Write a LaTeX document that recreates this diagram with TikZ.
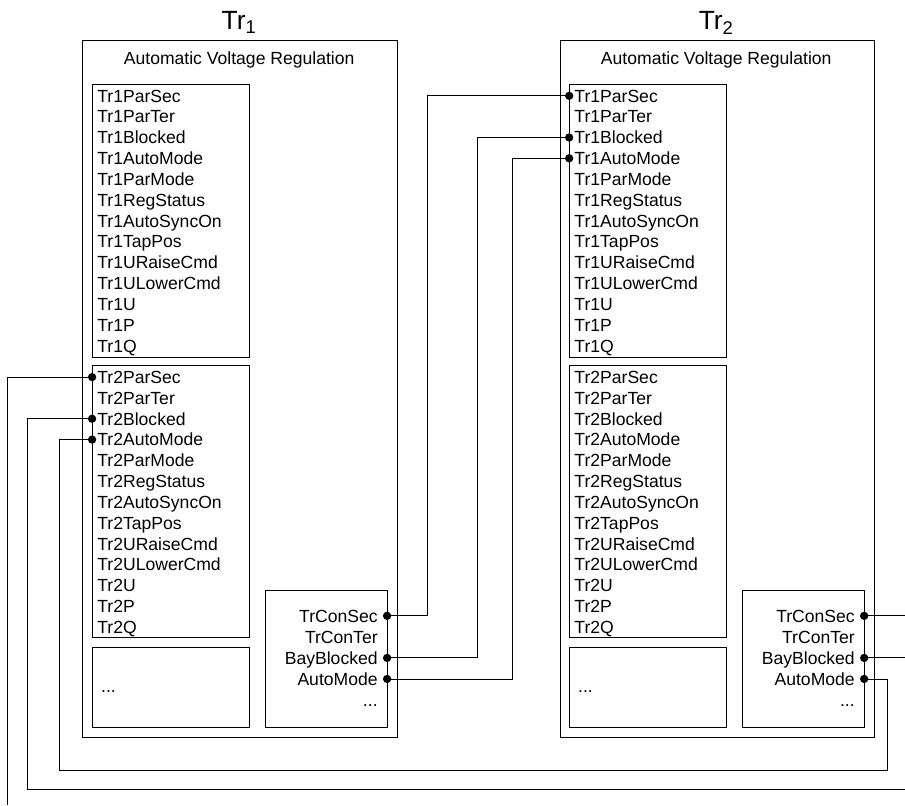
\documentclass[tikz,border=0pt]{standalone}
\usepackage{fontspec}
\setmainfont{Liberation Sans}
\tikzset{box/.style = {draw, line width=0.6pt}}
\tikzset{wire/.style = {line width=0.6pt}}
\tikzset{sig/.style = {anchor=west, inner sep=0pt, text height=8.6pt, text depth=0pt,
                       font=\fontsize{12}{14}\selectfont}}
\tikzset{con/.style = {sig, anchor=east}}
\tikzset{title/.style = {anchor=base, inner sep=0pt, font=\fontsize{18}{20}\selectfont}}

\begin{document}
\begin{tikzpicture}
    \useasboundingbox (0, 0) rectangle (21.72, -19.32);
    \clip (0, 0) rectangle (21.72, -19.32);
    \coordinate (edge-r) at (21.72, 0);
    \coordinate (exit-b) at (0.18, -19.32);
    \coordinate (exit-r) at (21.72, -18.94);
    \coordinate (loop) at (1.42, -18.48);

    % one regulator block per transformer
    \foreach \t/\dx in {1/0, 2/11.45} {
      \begin{scope}[xshift=\dx cm]
        \node [title] (tr\t) at (5.74, -0.72) {Tr\textsubscript{\t}};
        \draw [box] (1.99, -0.98) rectangle (9.53, -17.69);
        \node [title, font=\fontsize{12}{14}\selectfont] (avr\t) at (5.74, -1.56)
          {Automatic Voltage Regulation};
        \draw [box] (2.21, -2.02) rectangle (5.98, -8.57);
        \draw [box] (2.21, -8.76) rectangle (5.98, -15.31);
        \draw [box] (2.21, -15.53) rectangle (5.98, -17.45);
        \draw [box] (6.36, -14.16) rectangle (9.29, -17.45);
        \node [sig] (tr\t-more) at (2.42, -16.46) {...};
        \foreach \k/\y in {1/-2.30, 2/-9.05}
          \foreach \s [count=\i from 0] in {ParSec, ParTer, Blocked, AutoMode, ParMode,
                                            RegStatus, AutoSyncOn, TapPos, URaiseCmd,
                                            ULowerCmd, U, P, Q} {
            \node [sig] (tr\t-Tr\k\s) at (2.33, \y - 0.5*\i) {Tr\k\s};
            \coordinate (tr\t-Tr\k\s-p) at (2.21, \y - 0.5*\i);
          }
        \foreach \s [count=\i from 0] in {TrConSec, TrConTer, BayBlocked, AutoMode} {
          \node [con] (tr\t-\s) at (9.07, -14.78 - 0.505*\i) {\s};
          \coordinate (tr\t-\s-p) at (9.29, -14.78 - 0.505*\i);
        }
        \node [con] (tr\t-etc) at (9.07, -16.80) {...};
      \end{scope}
    }

    % links between the two regulators
    \draw [wire] (tr1-TrConSec-p) -- ++(0.98, 0) |- (tr2-Tr1ParSec-p);
    \draw [wire] (tr1-BayBlocked-p) -- ++(2.16, 0) |- (tr2-Tr1Blocked-p);
    \draw [wire] (tr1-AutoMode-p) -- ++(3.02, 0) |- (tr2-Tr1AutoMode-p);
    \draw [wire] (tr1-Tr2ParSec-p) -| (exit-b);
    \draw [wire] (tr1-Tr2Blocked-p) -- ++(-1.56, 0) |- (exit-r);
    \draw [wire] (tr2-AutoMode-p) -- ++(0.57, 0) |- (loop) |- (tr1-Tr2AutoMode-p);
    \draw [wire] (tr2-TrConSec-p) -- (tr2-TrConSec-p -| edge-r);
    \draw [wire] (tr2-BayBlocked-p) -- (tr2-BayBlocked-p -| edge-r);

    % connection points
    \foreach \t in {1, 2}
      \foreach \p in {TrConSec, BayBlocked, AutoMode}
        \fill (tr\t-\p-p) circle (0.1);
    \foreach \p in {Tr2ParSec, Tr2Blocked, Tr2AutoMode}
      \fill (tr1-\p-p) circle (0.1);
    \foreach \p in {Tr1ParSec, Tr1Blocked, Tr1AutoMode}
      \fill (tr2-\p-p) circle (0.1);
\end{tikzpicture}
\end{document}
